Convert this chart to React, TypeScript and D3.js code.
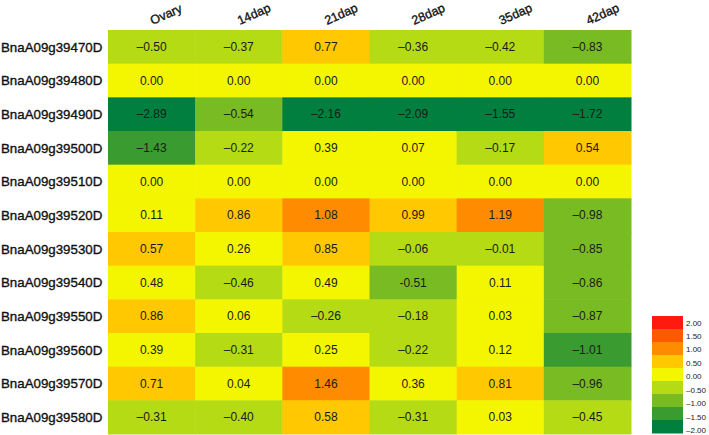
import React from "react";
import * as d3 from "d3";

const genes = [
  "BnaA09g39470D", "BnaA09g39480D", "BnaA09g39490D", "BnaA09g39500D",
  "BnaA09g39510D", "BnaA09g39520D", "BnaA09g39530D", "BnaA09g39540D",
  "BnaA09g39550D", "BnaA09g39560D", "BnaA09g39570D", "BnaA09g39580D",
];
const stages = ["Ovary", "14dap", "21dap", "28dap", "35dap", "42dap"];

const ovary = [-0.5, 0.0, -2.89, -1.43, 0.0, 0.11, 0.57, 0.48, 0.86, 0.39, 0.71, -0.31];
const dap14 = [-0.37, 0.0, -0.54, -0.22, 0.0, 0.86, 0.26, -0.46, 0.06, -0.31, 0.04, -0.4];
const dap21 = [0.77, 0.0, -2.16, 0.39, 0.0, 1.08, 0.85, 0.49, -0.26, 0.25, 1.46, 0.58];
const dap28 = [-0.36, 0.0, -2.09, 0.07, 0.0, 0.99, -0.06, -0.51, -0.18, -0.22, 0.36, -0.31];
const dap35 = [-0.42, 0.0, -1.55, -0.17, 0.0, 1.19, -0.01, 0.11, 0.03, 0.12, 0.81, 0.03];
const dap42 = [-0.83, 0.0, -1.72, 0.54, 0.0, -0.98, -0.85, -0.86, -0.87, -1.01, -0.96, -0.45];
const columns = [ovary, dap14, dap21, dap28, dap35, dap42];

// cells printed with a short hyphen instead of a dash in the original
const hyphenCells = ["BnaA09g39540D|28dap"];

const legendTicks = [2.0, 1.5, 1.0, 0.5, 0.0, -0.5, -1.0, -1.5, -2.0];
const binEdges = [-1.5, -1.0, -0.5, 0.0, 0.5, 1.0, 1.5, 2.0];
const binColors = [
  "#007f3f", "#3a9b31", "#79bb22", "#b5db15", "#f4f600",
  "#ffc800", "#ff8c00", "#ff5a00", "#ff1a10",
];

const W = 709;
const H = 435;

export default function App() {
  const x = d3.scaleBand<string>().domain(stages).range([108, 631]);
  const y = d3.scaleBand<string>().domain(genes).range([30, 434]);
  const color = d3.scaleThreshold<number, string>().domain(binEdges).range(binColors);
  const fmt = d3.format(".2f");

  const legY = d3.scaleBand<string>()
    .domain(legendTicks.map(String))
    .range([316, 433]);
  const legLabelY = d3.scaleLinear().domain([0, legendTicks.length - 1]).range([325.5, 433]);

  const cells: any[] = [];
  stages.forEach((s, ci) => {
    genes.forEach((g, ri) => {
      const v = columns[ci][ri];
      let txt = fmt(Math.abs(v));
      if (v < 0) txt = (hyphenCells.includes(g + "|" + s) ? "-" : "\u2013") + txt;
      cells.push({ s, g, v, txt });
    });
  });

  return (
    <svg
      width={W}
      height={H}
      style={{ position: "absolute", left: 0, top: 0, background: "#fff" }}
      fontFamily="'Liberation Sans', Arial, sans-serif"
    >
      {cells.map((c) => (
        <rect
          key={c.s + c.g}
          x={x(c.s)}
          y={y(c.g)}
          width={x.bandwidth() + 0.5}
          height={y.bandwidth() + 0.5}
          fill={color(c.v)}
        />
      ))}
      {cells.map((c) => (
        <text
          key={"t" + c.s + c.g}
          x={(x(c.s) as number) + x.bandwidth() / 2}
          y={(y(c.g) as number) + y.bandwidth() / 2}
          dy="0.36em"
          textAnchor="middle"
          fontSize={12}
          fill="#1a1a1a"
        >
          {c.txt}
        </text>
      ))}
      {genes.map((g) => (
        <text
          key={g}
          x={1}
          y={(y(g) as number) + y.bandwidth() / 2}
          dy="0.36em"
          fontSize={13.3}
          fill="#111"
          stroke="#111"
          strokeWidth={0.35}
        >
          {g}
        </text>
      ))}
      {stages.map((s) => {
        const cx = (x(s) as number) + x.bandwidth() / 2 + 1;
        const cy = 25;
        return (
          <text
            key={s}
            x={cx}
            y={cy}
            transform={`rotate(-24 ${cx} ${cy})`}
            fontSize={12.5}
            fill="#111"
            stroke="#111"
            strokeWidth={0.35}
          >
            {s}
          </text>
        );
      })}
      {legendTicks.map((t) => (
        <rect
          key={"l" + t}
          x={652}
          y={legY(String(t))}
          width={31}
          height={legY.bandwidth() + 0.5}
          fill={color(t === 2 ? 2 : t + 0.01) as string}
        />
      ))}
      {legendTicks.map((t, i) => (
        <text
          key={"lt" + t}
          x={686}
          y={legLabelY(i)}
          fontSize={8}
          fill="#222"
        >
          {(t < 0 ? "\u2013" : "") + fmt(Math.abs(t))}
        </text>
      ))}
    </svg>
  );
}
